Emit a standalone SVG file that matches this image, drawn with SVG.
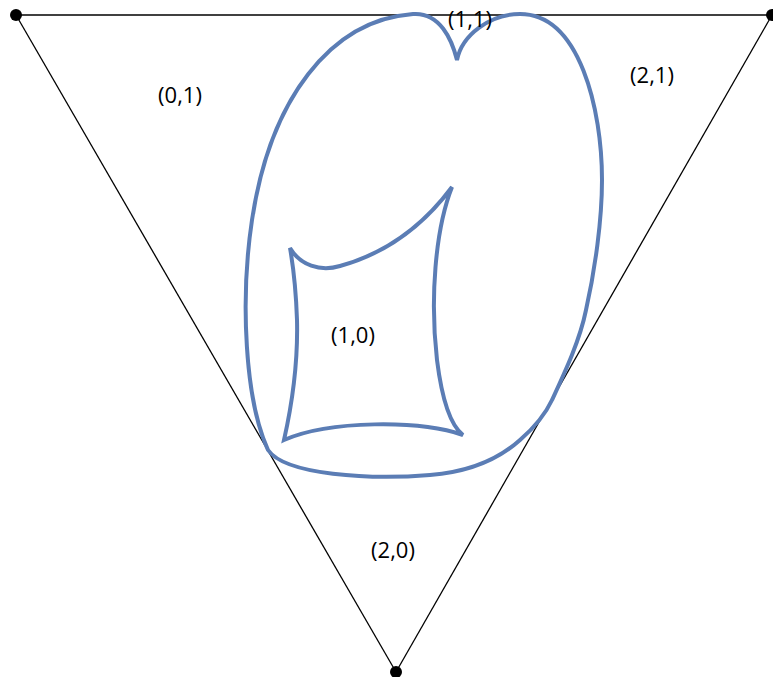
<svg xmlns="http://www.w3.org/2000/svg" width="773" height="677" viewBox="0 0 773 677">
<style>
.edge{stroke:#000;stroke-width:1.3;fill:none}
.blob{stroke:#5b7db5;stroke-width:4;fill:none;stroke-linejoin:miter}
.dot{fill:#000}
.lbl{font-family:"Open Sans","Liberation Sans",sans-serif;font-size:22px;fill:#000;text-anchor:middle}
</style>
<rect width="773" height="677" fill="#fff"/>
<g id="connectors">
<line class="edge" x1="16" y1="15" x2="772" y2="15"/>
<line class="edge" x1="16" y1="15" x2="396" y2="672"/>
<line class="edge" x1="772" y1="15" x2="396" y2="672"/>
</g>
<g id="outer-region">
<path class="blob" d="M457,60 C452,40 440,12 413,14 C330,20 270,100 252,220 C240,300 245,400 268,450 C285,475 370,480 430,475 C470,472 500,458 520,440 C535,427 545,415 552,400 C565,372 580,340 586,310 C595,270 602,220 602,180 C602,110 580,14 520,14 C490,14 462,35 457,60 Z"/>
</g>
<g id="inner-region">
<path class="blob" d="M290,248 C300,265 320,272 340,266 C380,255 420,230 452,187 C435,230 430,300 437,360 C442,400 450,425 463,435 C420,420 330,420 284,440 C293,400 298,360 297,320 C296,290 293,265 290,248 Z"/>
</g>
<g id="v0"><circle class="dot" cx="16" cy="15" r="6"/></g>
<g id="v1"><circle class="dot" cx="772" cy="15" r="6"/></g>
<g id="v2"><circle class="dot" cx="396" cy="672" r="6"/></g>
<g id="label-01"><text class="lbl" x="180" y="103">(0,1)</text></g>
<g id="label-21"><text class="lbl" x="652" y="83">(2,1)</text></g>
<g id="label-11"><text class="lbl" x="470" y="27">(1,1)</text></g>
<g id="label-10"><text class="lbl" x="353" y="343">(1,0)</text></g>
<g id="label-20"><text class="lbl" x="393" y="558">(2,0)</text></g>
</svg>
